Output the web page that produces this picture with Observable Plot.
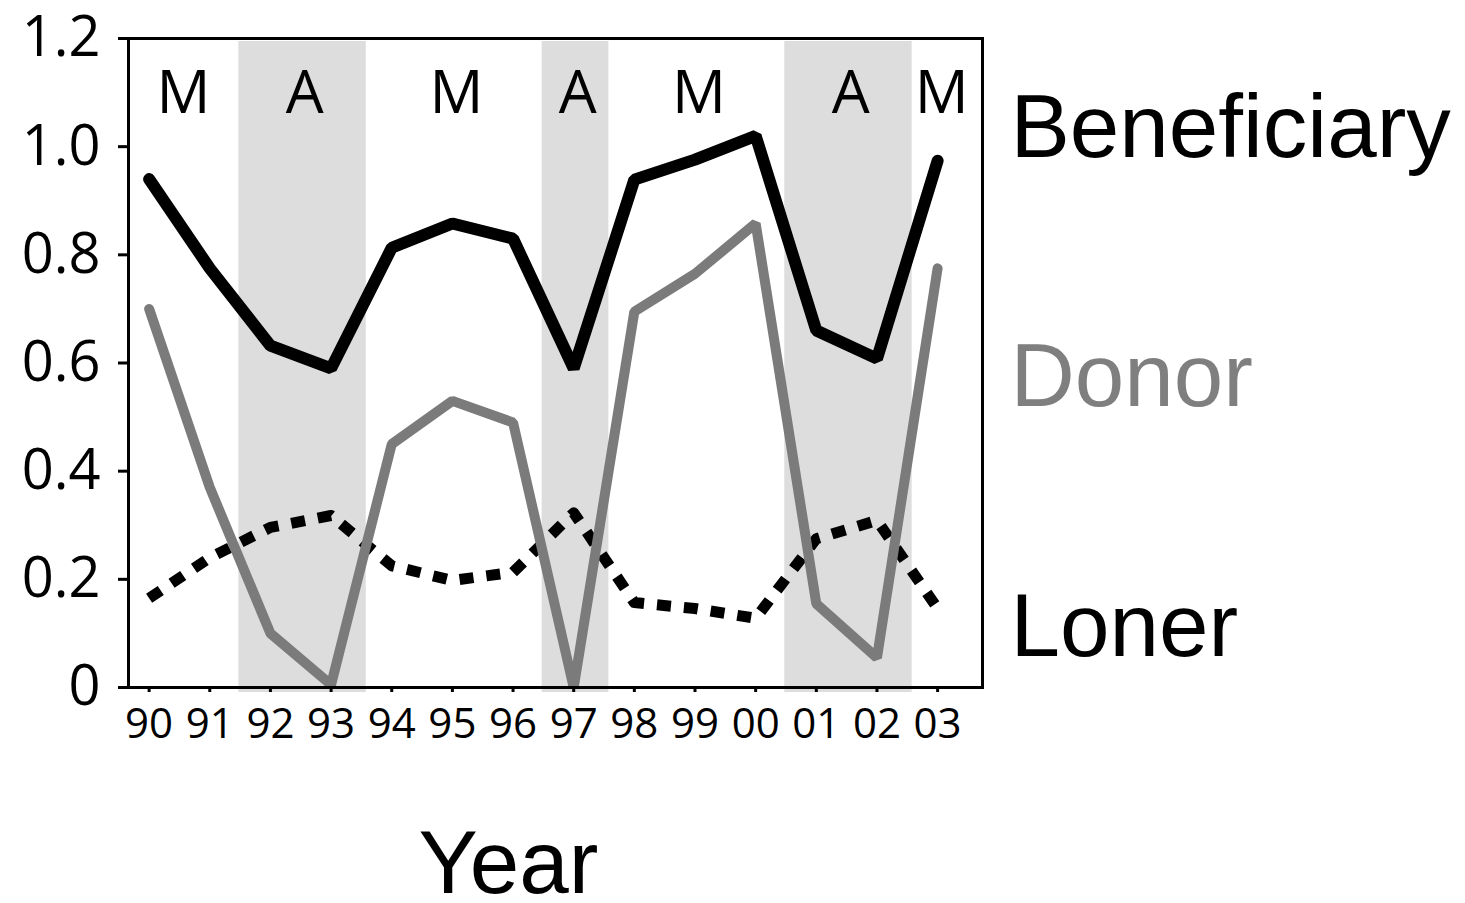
<!DOCTYPE html>
<html>
<head>
<meta charset="utf-8">
<script src="https://cdn.jsdelivr.net/npm/d3@7"></script>
<script src="https://cdn.jsdelivr.net/npm/@observablehq/plot@0.6"></script>
<style>
  html, body { margin: 0; padding: 0; background: #fff; }
  #chart svg { display: block; overflow: visible; }
</style>
</head>
<body>
<div id="chart"></div>
<script>
// Survey years, 1990–2003
const years = [1990, 1991, 1992, 1993, 1994, 1995, 1996, 1997, 1998, 1999, 2000, 2001, 2002, 2003];

// Proportion of individuals in each role per year
const beneficiary = [0.94, 0.775, 0.632, 0.59, 0.813, 0.858, 0.83, 0.59, 0.939, 0.976, 1.02, 0.66, 0.608, 0.974];
const donor       = [0.70, 0.37, 0.10, 0.005, 0.45, 0.53, 0.49, 0.0, 0.695, 0.765, 0.858, 0.155, 0.055, 0.775];
const loner       = [0.165, 0.24, 0.296, 0.318, 0.225, 0.198, 0.213, 0.323, 0.157, 0.146, 0.128, 0.275, 0.309, 0.146];

// Environmental phases (M / A) with their first and last year
const phaseLabels = ["M", "A", "M", "A", "M", "A", "M"];
const phaseStart  = [1990, 1992, 1994, 1997, 1998, 2001, 2003];
const phaseEnd    = [1991, 1993, 1996, 1997, 2000, 2002, 2003];

// Series names, colours and where their names sit on the right
const seriesNames  = ["Beneficiary", "Donor", "Loner"];
const seriesColors = ["#000000", "#7f7f7f", "#000000"];
const seriesLabelY = [1.033, 0.573, 0.111];

const yTicks = [0, 0.2, 0.4, 0.6, 0.8, 1.0, 1.2];

const phases = phaseLabels.map((label, i) => ({label, start: phaseStart[i], end: phaseEnd[i]}));
const rows = years.map((year, i) => ({year, beneficiary: beneficiary[i], donor: donor[i], loner: loner[i]}));
const seriesLabels = seriesNames.map((name, i) => ({name, color: seriesColors[i], y: seriesLabelY[i]}));

const tickFont = "'Open Sans', 'Noto Sans', sans-serif";
const labelFont = "'Liberation Sans', Arial, sans-serif";

const chart = Plot.plot({
  width: 1465,
  height: 903,
  marginLeft: 128,
  marginRight: 483,
  marginTop: 38,
  marginBottom: 216,
  style: {fontFamily: tickFont, background: "#fff", color: "#000", overflow: "visible"},
  x: {domain: [1989.66, 2003.74]},
  y: {domain: [0, 1.2]},
  marks: [
    // shaded "A" phases
    Plot.rect(phases.filter(d => d.label === "A"), {
      x1: d => d.start - 0.52,
      x2: d => d.end + 0.58,
      fill: "#dddddd",
      insetTop: 3,
      insetBottom: -5
    }),
    Plot.text(phases, {
      x: d => (d.start + d.end) / 2,
      text: "label",
      frameAnchor: "top",
      dy: 32,
      dx: 4,
      fontSize: 60,
      fill: "#000"
    }),
    Plot.lineY(rows, {x: "year", y: "loner", stroke: "#000", strokeWidth: 11, strokeDasharray: "14,13", strokeLinecap: "butt"}),
    Plot.lineY(rows, {x: "year", y: "donor", stroke: "#7b7b7b", strokeWidth: 10, strokeLinecap: "round", strokeLinejoin: "miter"}),
    Plot.lineY(rows, {x: "year", y: "beneficiary", stroke: seriesColors[0], strokeWidth: 12, strokeLinecap: "round", strokeLinejoin: "miter"}),
    Plot.axisY({
      ticks: yTicks,
      tickFormat: d => d === 0 ? "0" : d.toFixed(1),
      tickSize: 10,
      tickPadding: 18,
      fontSize: 56,
      strokeWidth: 3,
      label: null
    }),
    Plot.axisX({
      ticks: years,
      tickFormat: d => String(d % 100).padStart(2, "0"),
      tickSize: 5,
      tickPadding: 16,
      fontSize: 42,
      strokeWidth: 3,
      label: null
    }),
    Plot.frame({stroke: "#000", strokeWidth: 3}),
    Plot.text(seriesLabels, {
      y: "y",
      text: "name",
      fill: "color",
      frameAnchor: "right",
      textAnchor: "start",
      dx: 28,
      fontSize: 89,
      fontFamily: labelFont,
      clip: false
    }),
    Plot.text(["Year"], {
      text: d => d,
      frameAnchor: "bottom",
      dx: -47,
      dy: 205,
      fontSize: 89,
      fontFamily: labelFont
    })
  ]
});

document.getElementById("chart").appendChild(chart);
</script>
</body>
</html>
